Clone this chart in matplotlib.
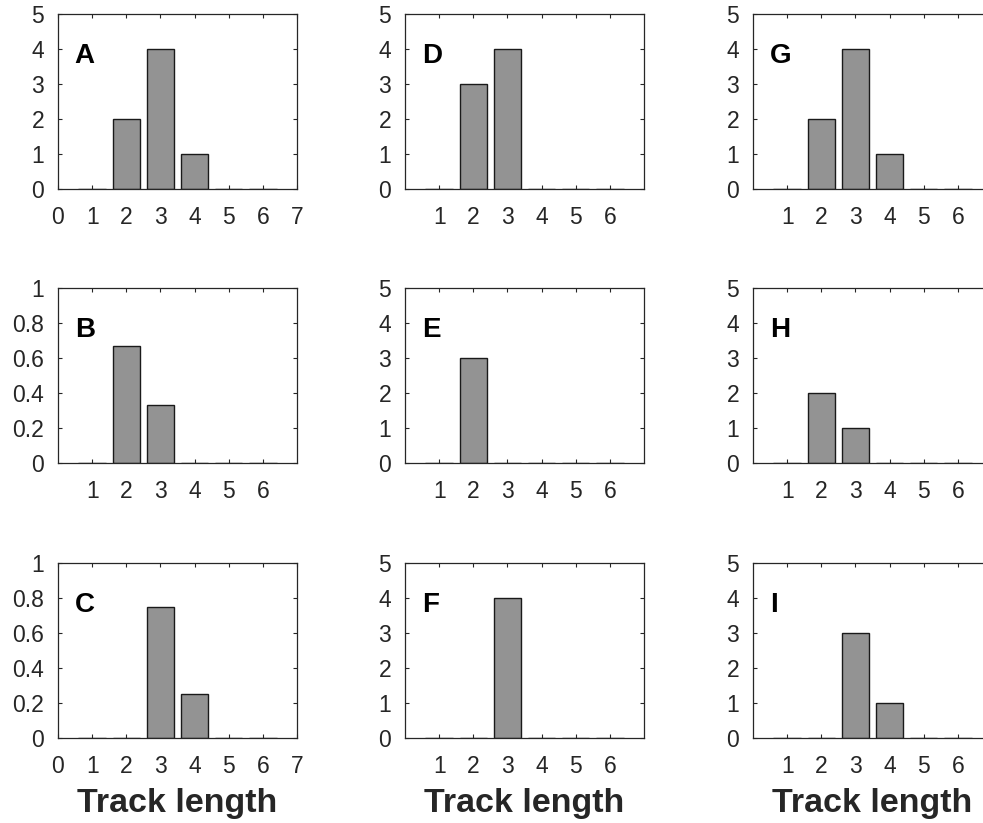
import matplotlib.pyplot as plt
import numpy as np

plt.rcParams['font.family'] = ['Liberation Sans', 'DejaVu Sans']

lengths = [1, 2, 3, 4, 5, 6]

A = [0, 2, 4, 1, 0, 0]
B = [0, 0.667, 0.333, 0, 0, 0]
C = [0, 0, 0.75, 0.25, 0, 0]
D = [0, 3, 4, 0, 0, 0]
E = [0, 3, 0, 0, 0, 0]
F = [0, 0, 4, 0, 0, 0]
G = [0, 2, 4, 1, 0, 0]
H = [0, 2, 1, 0, 0, 0]
I = [0, 0, 3, 1, 0, 0]

panels = [['A', 'D', 'G'], ['B', 'E', 'H'], ['C', 'F', 'I']]
data = {'A': A, 'B': B, 'C': C, 'D': D, 'E': E, 'F': F, 'G': G, 'H': H, 'I': I}
xticks_full = ['A', 'C']          # panels labelled 0..7
fraction = ['B', 'C']             # panels with 0..1 y axis

W, Hh = 983, 823
fig = plt.figure(figsize=(W / 100, Hh / 100), dpi=100)

col_left = [58, 405, 753]
row_top = [14, 288, 563]
aw, ah = 239, 175
dark = '#262626'

for r in range(3):
    for c in range(3):
        name = panels[r][c]
        ax = fig.add_axes([col_left[c] / W, 1 - (row_top[r] + ah) / Hh, aw / W, ah / Hh])
        ax.bar(lengths, data[name], width=0.8, color='#939393', edgecolor='#1a1a1a', linewidth=1.0, zorder=2)
        ax.set_xlim(0, 7)
        if name in fraction:
            ax.set_ylim(0, 1)
            ax.set_yticks(np.arange(0, 1.01, 0.2))
            ax.set_yticklabels(['0', '0.2', '0.4', '0.6', '0.8', '1'])
        else:
            ax.set_ylim(0, 5)
            ax.set_yticks(range(6))
        if name in xticks_full:
            ax.set_xticks(range(8))
        else:
            ax.set_xticks(lengths)
        ax.tick_params(direction='in', length=3, width=0.8, color=dark,
                       labelsize=16.5, labelcolor=dark, top=True, right=True)
        ax.tick_params(axis='x', pad=12)
        ax.tick_params(axis='y', pad=10)
        for s in ax.spines.values():
            s.set_color(dark)
            s.set_linewidth(0.9)
        ax.text(0.07, 0.72, name, transform=ax.transAxes, fontsize=20,
                fontweight='bold', va='baseline', ha='left', color='black')
        if r == 2:
            ax.text(0.5, -0.423, 'Track length', transform=ax.transAxes,
                    fontsize=24.5, fontweight='bold', ha='center', va='baseline',
                    color=dark)

fig.savefig('out.png', dpi=100)
